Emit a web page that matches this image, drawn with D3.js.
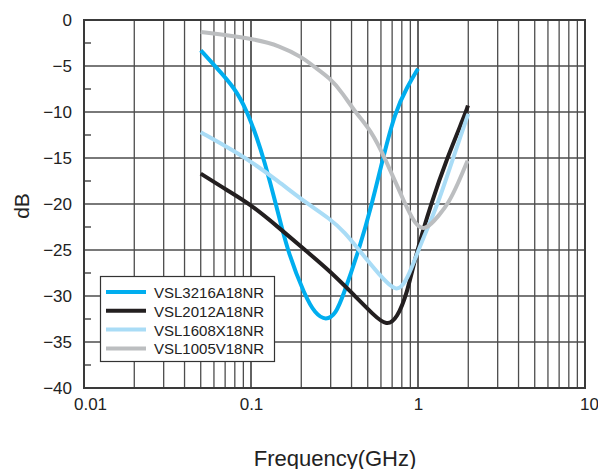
<!DOCTYPE html>
<html lang="en">
<head>
<meta charset="UTF-8">
<title>VSL insertion loss</title>
<script src="https://cdn.jsdelivr.net/npm/d3@7/dist/d3.min.js"></script>
<style>
  body { margin: 0; background: #fff; }
  svg { display: block; font-family: "Liberation Sans", Arial, Helvetica, sans-serif; }
</style>
</head>
<body>
<script>
// series: [frequency GHz, dB]
var vsl3216 = [[0.05,-3.3],[0.0609,-5],[0.0802,-7.4],[0.0946,-9.9],[0.1086,-12.8],[0.1196,-15.2],
  [0.1412,-20],[0.1643,-25],[0.2106,-30],[0.2417,-31.9],[0.2812,-32.7],[0.3228,-31.9],
  [0.3556,-30],[0.4433,-25],[0.5303,-20],[0.6171,-15],[0.7284,-10],[0.8592,-7.3],[1.0,-5.3]];
var vsl2012 = [[0.05,-16.7],[0.0718,-18.5],[0.0986,-20],[0.1431,-22.4],[0.2106,-25],[0.2972,-27.3],
  [0.4196,-30],[0.5377,-32],[0.6523,-33.3],[0.7486,-32.4],[0.8592,-29.8],[0.98,-25.2],
  [1.196,-20],[1.492,-15],[1.939,-10],[1.99,-9.3]];
var vsl1608 = [[0.05,-12.2],[0.0718,-13.8],[0.0986,-15.3],[0.1451,-17.5],[0.2106,-19.8],
  [0.2972,-21.6],[0.3655,-23.1],[0.4433,-25],[0.5923,-27.8],[0.7486,-29.7],[0.8473,-28.4],
  [0.9463,-26.3],[1.057,-24],[1.318,-20],[1.621,-15],[2.0,-10.2]];
var vsl1005 = [[0.05,-1.3],[0.1014,-2.0],[0.1492,-2.8],[0.2049,-4.1],[0.2351,-5],[0.2972,-6.3],
  [0.3556,-8],[0.4196,-10],[0.5232,-12],[0.6344,-15],[0.836,-20],[0.9594,-22.2],[1.101,-23],
  [1.354,-21.1],[1.512,-20],[1.736,-17.8],[1.98,-15.3]];

var seriesNames = ["VSL3216A18NR", "VSL2012A18NR", "VSL1608X18NR", "VSL1005V18NR"];
var seriesColors = ["#00aeef", "#231f20", "#a9dcf6", "#bcbec0"];
var seriesData = [vsl3216, vsl2012, vsl1608, vsl1005];

var yTicks = [0, -5, -10, -15, -20, -25, -30, -35, -40];
var yMinor = [-2.5, -7.5, -12.5, -17.5, -22.5, -27.5, -32.5, -37.5];
var xTicks = [0.01, 0.1, 1, 10];
var xTickLabels = ["0.01", "0.1", "1", "10"];

var w = 598, h = 469;
var pLeft = 84, pRight = 585, pTop = 20, pBottom = 388;

var svg = d3.select("body").append("svg")
  .attr("width", w)
  .attr("height", h);

var x = d3.scaleLog().domain([0.01, 10]).range([pLeft, pRight]);
var y = d3.scaleLinear().domain([-40, 0]).range([pBottom, pTop]);

// vertical grid at every 1..9 x 10^k
var xGrid = [];
[0.01, 0.1, 1].forEach(function(d) {
  for (var k = 1; k <= 10; k++) xGrid.push(+(d * k).toPrecision(3));
});

svg.append("g")
  .selectAll("line.vg")
  .data(xGrid)
  .enter()
  .append("line")
  .attr("class", "vg")
  .attr("x1", function(d) { return x(d) })
  .attr("x2", function(d) { return x(d) })
  .attr("y1", pTop)
  .attr("y2", pBottom)
  .attr("stroke", "#4d4d4d")
  .attr("stroke-width", 1.3);

svg.append("g")
  .selectAll("line.hg")
  .data(yTicks)
  .enter()
  .append("line")
  .attr("class", "hg")
  .attr("x1", pLeft)
  .attr("x2", pRight)
  .attr("y1", function(d) { return y(d) })
  .attr("y2", function(d) { return y(d) })
  .attr("stroke", "#4d4d4d")
  .attr("stroke-width", 1.3);

// minor ticks on the left, inside
svg.append("g")
  .selectAll("line.mt")
  .data(yMinor)
  .enter()
  .append("line")
  .attr("x1", pLeft)
  .attr("x2", pLeft + 7)
  .attr("y1", function(d) { return y(d) })
  .attr("y2", function(d) { return y(d) })
  .attr("stroke", "#333")
  .attr("stroke-width", 1.3);

// frame
svg.append("rect")
  .attr("x", pLeft)
  .attr("y", pTop)
  .attr("width", pRight - pLeft)
  .attr("height", pBottom - pTop)
  .attr("fill", "none")
  .attr("stroke", "#3a3a3a")
  .attr("stroke-width", 2);

// axis labels via d3 axes (lines hidden)
var yAxis = svg.append("g")
  .attr("transform", "translate(" + pLeft + ",0)")
  .call(d3.axisLeft(y).tickValues(yTicks).tickSize(0).tickPadding(12).tickFormat(d3.format("d")));
yAxis.select(".domain").remove();
yAxis.selectAll("text")
  .attr("font-size", 17)
  .attr("font-family", "Liberation Sans, Arial, sans-serif")
  .attr("fill", "#222");

var xAxis = svg.append("g")
  .attr("transform", "translate(0," + pBottom + ")")
  .call(d3.axisBottom(x).tickValues(xTicks).tickSize(0).tickPadding(10)
    .tickFormat(function(d, i) { return xTickLabels[i] }));
xAxis.select(".domain").remove();
xAxis.selectAll("text")
  .attr("font-size", 17)
  .attr("font-family", "Liberation Sans, Arial, sans-serif")
  .attr("fill", "#222")
  .attr("dx", function(d, i) { return i == 0 ? 6 : (i == 3 ? 4 : 0) });

svg.append("text")
  .attr("x", 335)
  .attr("y", 466)
  .attr("text-anchor", "middle")
  .attr("font-size", 22)
  .attr("fill", "#222")
  .text("Frequency(GHz)");

svg.append("text")
  .attr("transform", "translate(29,206) rotate(-90)")
  .attr("text-anchor", "middle")
  .attr("font-size", 21)
  .attr("fill", "#222")
  .text("dB");

// curves, smoothed through the read points
var line = d3.line()
  .x(function(d) { return x(d[0]) })
  .y(function(d) { return y(d[1]) })
  .curve(d3.curveBasis);

svg.append("g")
  .selectAll("path.curve")
  .data(seriesData)
  .enter()
  .append("path")
  .attr("class", "curve")
  .attr("d", line)
  .attr("fill", "none")
  .attr("stroke", function(d, i) { return seriesColors[i] })
  .attr("stroke-width", 4)
  .attr("stroke-linecap", "butt")
  .attr("stroke-linejoin", "round");

// legend
var lg = svg.append("g");
lg.append("rect")
  .attr("x", 100.5)
  .attr("y", 276.5)
  .attr("width", 174)
  .attr("height", 85)
  .attr("fill", "#fff")
  .attr("stroke", "#333")
  .attr("stroke-width", 1.2);

var rows = lg.selectAll("g.row")
  .data(seriesNames)
  .enter()
  .append("g")
  .attr("class", "row")
  .attr("transform", function(d, i) { return "translate(0," + (292 + i * 18.8) + ")" });

rows.append("line")
  .attr("x1", 106)
  .attr("x2", 146)
  .attr("stroke", function(d, i) { return seriesColors[i] })
  .attr("stroke-width", 4);

rows.append("text")
  .attr("x", 154)
  .attr("y", 0)
  .attr("dy", "0.4em")
  .attr("font-size", 15)
  .attr("fill", "#222")
  .text(function(d) { return d });
</script>
</body>
</html>
